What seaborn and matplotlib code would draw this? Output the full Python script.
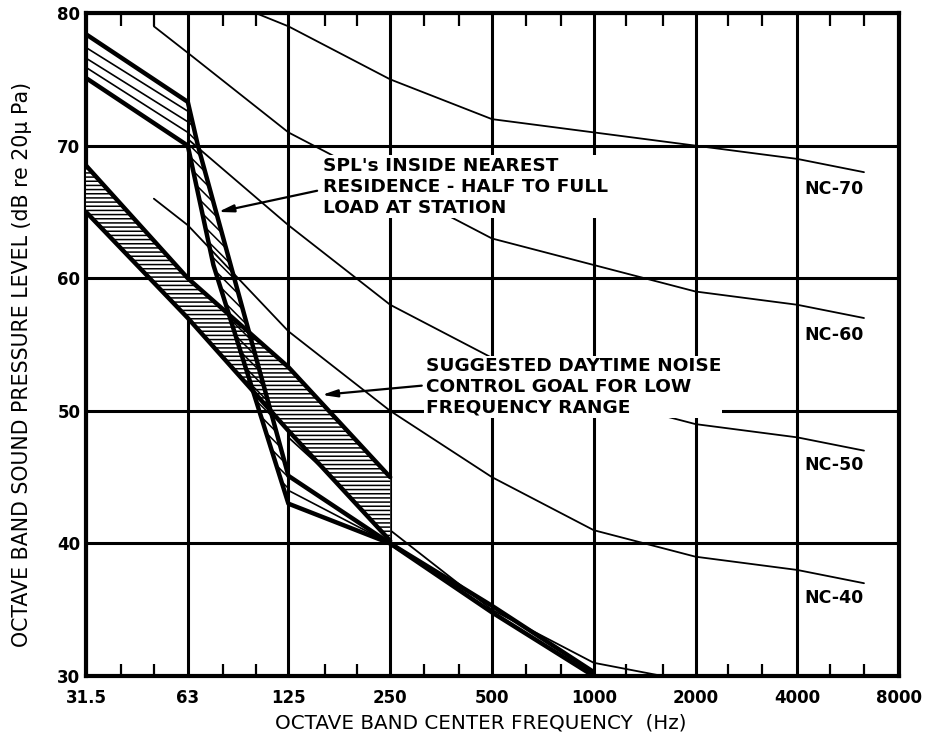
import matplotlib
matplotlib.use('Agg')
import matplotlib.pyplot as plt
from matplotlib.ticker import NullFormatter
import seaborn as sb
import pandas as pd
import numpy as np

# octave band centres on the x axis, third-octave minor ticks
bands = [31.5, 63, 125, 250, 500, 1000, 2000, 4000, 8000]
band_labels = ['31.5', '63', '125', '250', '500', '1000', '2000', '4000', '8000']
third_oct = [40, 50, 80, 100, 160, 200, 315, 400, 630, 800, 1250, 1600, 2500, 3150, 5000, 6300]
levels = [30, 40, 50, 60, 70, 80]

# NC curves as drawn in the figure (they stop short of 8000 Hz)
nc70_f = [100, 125, 250, 500, 1000, 2000, 4000, 6300]
nc70 = [80, 79, 75, 72, 71, 70, 69, 68]
nc60_f = [50, 63, 125, 250, 500, 1000, 2000, 4000, 6300]
nc60 = [79, 77, 71, 67, 63, 61, 59, 58, 57]
nc50_f = [63, 125, 250, 500, 1000, 2000, 4000, 6300]
nc50 = [70.5, 64, 58, 54, 51, 49, 48, 47]
nc40_f = [50, 63, 125, 250, 500, 1000, 2000, 4000, 6300]
nc40 = [66, 64, 56, 50, 45, 41, 39, 38, 37]
nc30_f = [125, 250, 500, 1000, 1600]
nc30 = [48, 41, 35, 31, 30]

# SPLs inside nearest residence (upper / lower envelope)
spl_hi_f = [31.5, 63, 67.5, 125, 250, 500, 1000]
spl_hi = [78.4, 73.3, 70, 45.1, 40, 35.3, 30.3]
spl_lo_f = [31.5, 63, 75, 125, 250, 500, 1000]
spl_lo = [75.1, 70, 61, 43, 40, 34.8, 30.0]
spl_thin_f = [31.5, 63]
spl_thin = [[77.4, 72.6], [76.6, 71.8], [75.9, 71.0]]
spl_mid_f = [125, 250]
spl_mid = [44, 40]

# suggested daytime goal band
goal_f = [31.5, 63, 125, 250]
goal_hi = [68.5, 60, 53.3, 45]
goal_lo = [65, 57, 48.5, 40.2]

sb.set_style('white')
plt.rcParams['font.family'] = ['DejaVu Sans']
plt.rcParams['hatch.linewidth'] = 1.1
for k in ['text.color', 'axes.labelcolor', 'xtick.color', 'ytick.color']:
    plt.rcParams[k] = 'black'

fig = plt.figure(figsize=(9.26, 7.42), dpi=100)
ax = fig.add_axes([0.0929, 0.0889, 0.878, 0.8935])
ax.set_xscale('log', base=2)

# NC curves
nc_df = pd.concat([
    pd.DataFrame({'freq': nc70_f, 'level': nc70, 'curve': 'NC-70'}),
    pd.DataFrame({'freq': nc60_f, 'level': nc60, 'curve': 'NC-60'}),
    pd.DataFrame({'freq': nc50_f, 'level': nc50, 'curve': 'NC-50'}),
    pd.DataFrame({'freq': nc40_f, 'level': nc40, 'curve': 'NC-40'}),
    pd.DataFrame({'freq': nc30_f, 'level': nc30, 'curve': 'NC-30'}),
])
sb.lineplot(data=nc_df, x='freq', y='level', units='curve', estimator=None,
            sort=False, color='black', lw=1.3, legend=False, ax=ax, zorder=2)

# goal band (cross hatched)
ax.fill_between(goal_f, goal_lo, goal_hi, facecolor='white', edgecolor='black',
                hatch='----', lw=0, zorder=3)
ax.plot(goal_f, goal_hi, color='black', lw=3.2, zorder=4)
ax.plot(goal_f, goal_lo, color='black', lw=3.2, zorder=4)

# SPL band: steep hatched strip between 63 and 125 Hz
poly_x = spl_hi_f[1:4] + spl_lo_f[1:4][::-1]
poly_y = spl_hi[1:4] + spl_lo[1:4][::-1]
ax.fill(poly_x, poly_y, facecolor='none', edgecolor='black', hatch='\\\\\\', lw=0, zorder=4)
ax.plot(spl_hi_f, spl_hi, color='black', lw=3.2, zorder=5)
ax.plot(spl_lo_f, spl_lo, color='black', lw=3.2, zorder=5)
for vals in spl_thin:
    ax.plot(spl_thin_f, vals, color='black', lw=1.2, zorder=4)
ax.plot(spl_mid_f, spl_mid, color='black', lw=1.2, zorder=4)

# annotations
box = dict(facecolor='white', edgecolor='none', pad=1)
ax.text(158, 66.9, "SPL's INSIDE NEAREST\nRESIDENCE - HALF TO FULL\nLOAD AT STATION",
        ha='left', va='center', fontsize=13.3, fontweight='bold', linespacing=1.2,
        bbox=box, zorder=6)
ax.text(318, 51.8, "SUGGESTED DAYTIME NOISE\nCONTROL GOAL FOR LOW\nFREQUENCY RANGE",
        ha='left', va='center', fontsize=13.3, fontweight='bold', linespacing=1.2,
        bbox=box, zorder=6)
arrow = dict(arrowstyle='-|>,head_length=0.9,head_width=0.22', lw=1.6, color='black',
             shrinkA=0, shrinkB=0)
ax.annotate('', xy=(77.5, 65.0), xytext=(152, 66.6), arrowprops=arrow, zorder=7)
ax.annotate('', xy=(157, 51.2), xytext=(310, 51.9), arrowprops=arrow, zorder=7)

for name, y in zip(['NC-70', 'NC-60', 'NC-50', 'NC-40'], [66.7, 55.7, 45.9, 35.9]):
    ax.text(5150, y, name, ha='center', va='center', fontsize=12.5, fontweight='bold',
            bbox=box, zorder=6)

# axes, grid and ticks
ax.set_xlim(31.5, 8000)
ax.set_ylim(30, 80)
ax.set_xticks(bands)
ax.set_xticklabels(band_labels)
ax.set_xticks(third_oct, minor=True)
ax.xaxis.set_minor_formatter(NullFormatter())
ax.set_yticks(levels)
ax.grid(which='major', color='black', lw=2.2)
ax.set_axisbelow(True)
ax.tick_params(which='major', length=0, labelsize=12)
ax.tick_params(axis='x', which='major', pad=9)
ax.tick_params(axis='y', which='major', pad=4)
ax.tick_params(which='minor', axis='x', direction='in', top=True, bottom=True,
               length=9, width=1.6)
for lab in ax.get_xticklabels() + ax.get_yticklabels():
    lab.set_fontweight('bold')
for s in ax.spines.values():
    s.set_linewidth(3)
    s.set_color('black')

ax.set_xlabel('OCTAVE BAND CENTER FREQUENCY  (Hz)', fontsize=14.3)
ax.set_ylabel('OCTAVE BAND SOUND PRESSURE LEVEL (dB re 20\u03bc Pa)', fontsize=14.8)
ax.xaxis.set_label_coords(0.486, -0.056)
ax.yaxis.set_label_coords(-0.066, 0.47)

fig.savefig('out.png', dpi=100)
